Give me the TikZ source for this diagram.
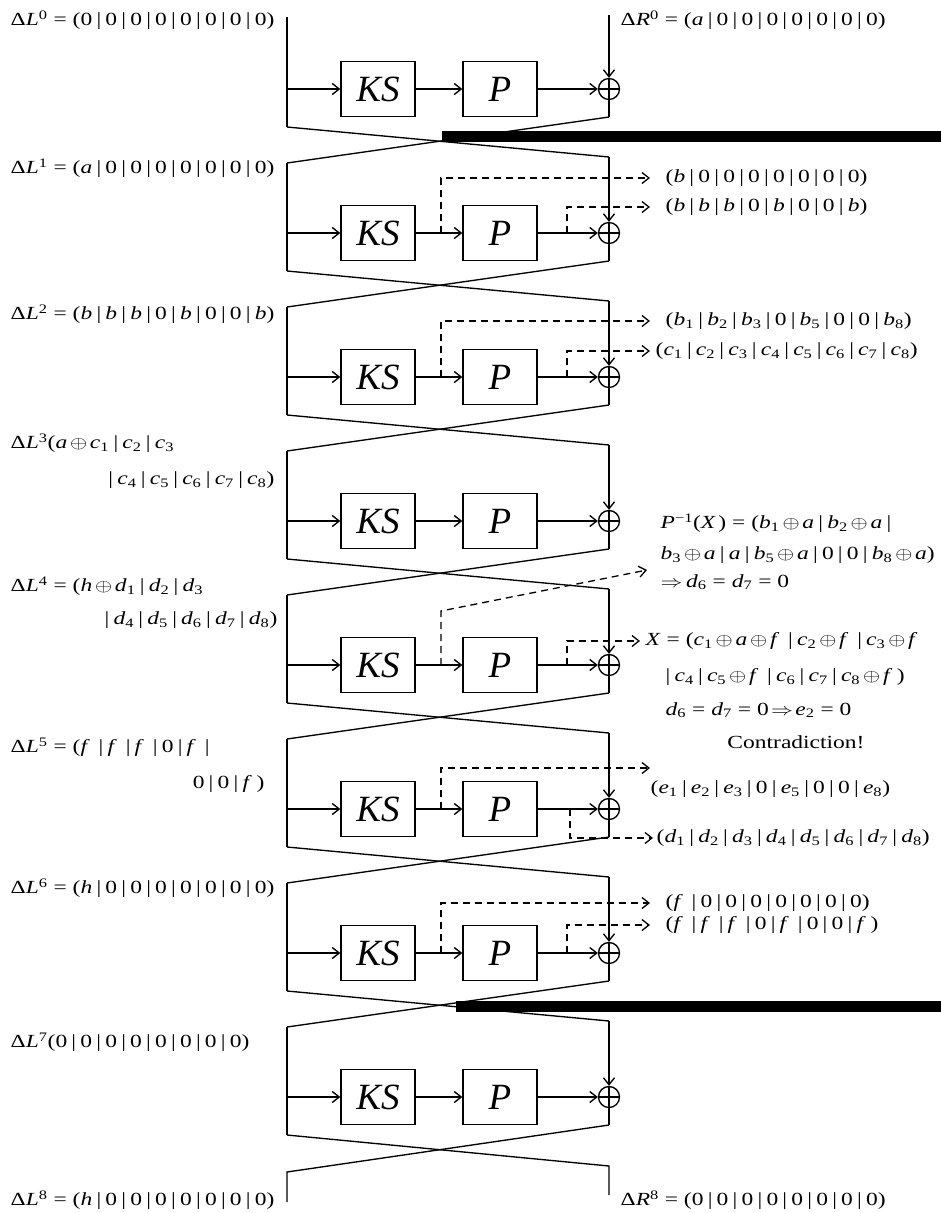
\documentclass[tikz,border=0pt]{standalone}
\usepackage{fontspec}
\setmainfont{Liberation Serif}
\usepackage{graphicx}
\usetikzlibrary{arrows.meta}
\newcommand{\bv}{\hspace{0.18em}|\hspace{0.18em}}
\newcommand{\tup}[8]{(#1\bv#2\bv#3\bv#4\bv#5\bv#6\bv#7\bv#8)}
\newcommand{\vi}[1]{\textit{#1}}
\newcommand{\sbs}[2]{\textit{#1}\textsubscript{#2}}
\newcommand{\ox}{\hspace{0.12em}$\oplus$\hspace{0.12em}}
\newcommand{\ff}{\textit{f}\hspace{0.2em}}
\newcommand{\lab}[1]{\scalebox{1.27}[1]{#1}}
\begin{document}
\begin{tikzpicture}[x=1pt,y=-1pt, line width=1.35pt,
  >={Straight Barb[length=7pt,width=11pt]},
  box/.style={draw, minimum width=74pt, minimum height=55pt, inner sep=0pt,
    font=\fontsize{37}{37}\selectfont\itshape},
  xor/.style={draw, circle, minimum size=21pt, inner sep=0pt},
  lbl/.style={inner sep=0pt, font=\fontsize{18.5}{20}\selectfont},
  dsh/.style={dash pattern=on 7pt off 5pt, line width=1.3pt}]
\clip (0,0) rectangle (941,1213);
\fill[white] (0,0) rectangle (941,1213);

% ---- rounds
\foreach \i in {0,...,7}{
  \pgfmathsetmacro{\c}{89+144*\i}
  \node[box] (ks\i) at (378,\c) {KS};
  \node[box] (p\i) at (500,\c) {P};
  \node[xor] (x\i) at (609,\c) {};
  \coordinate (la\i) at (287,\c);
  \coordinate (lb\i) at (287,\c+38);
  \coordinate (rb\i) at (609,\c+28);
  \coordinate (lt\i) at (287,\c-70);
  \coordinate (rt\i) at (609,\c-76);
}
\coordinate (lt0) at (287,17);
\coordinate (rt0) at (609,15);
\coordinate (rf) at (609,1166);
\coordinate (rend) at (609,1195);
\coordinate (lf) at (287,1172);
\coordinate (lend) at (287,1202);

\foreach \i in {0,...,7}{
  \draw (lt\i) -- (lb\i);
  \draw[->] (la\i) -- (ks\i);
  \draw[->] (ks\i) -- (p\i);
  \draw[->] (p\i) -- (x\i);
  \draw[->] (rt\i) -- (x\i);
  \draw (x\i) -- (rb\i);
  \draw (x\i.north) -- (x\i.south) (x\i.west) -- (x\i.east);
}
\foreach \i/\j in {0/1,1/2,2/3,3/4,4/5,5/6,6/7}{
  \draw (lb\i) -- (rt\j);
  \draw (rb\i) -- (lt\j);
}
\draw (lb7) -- (rf) -- (rend);
\draw (rb7) -- (lf) -- (lend);

% ---- redaction bars
\fill[black] (442,131) rectangle (941,142);
\fill[black] (456,1001) rectangle (941,1012);

% ---- left labels
\node[lbl,anchor=west] (L0) at (10,20) {\lab{Δ\vi{L}\textsuperscript{0} = \tup{0}{0}{0}{0}{0}{0}{0}{0}}};
\node[lbl,anchor=west] (L1) at (10,168) {\lab{Δ\vi{L}\textsuperscript{1} = \tup{\vi{a}}{0}{0}{0}{0}{0}{0}{0}}};
\node[lbl,anchor=west] (L2) at (10,314) {\lab{Δ\vi{L}\textsuperscript{2} = \tup{\vi{b}}{\vi{b}}{\vi{b}}{0}{\vi{b}}{0}{0}{\vi{b}}}};
\node[lbl,anchor=west] (L3a) at (10,443) {\lab{Δ\vi{L}\textsuperscript{3}(\vi{a}\ox\sbs{c}{1}\bv\sbs{c}{2}\bv\sbs{c}{3}}};
\node[lbl,anchor=east] (L3b) at (275,480) {\lab{|\hspace{0.18em}\sbs{c}{4}\bv\sbs{c}{5}\bv\sbs{c}{6}\bv\sbs{c}{7}\bv\sbs{c}{8})}};
\node[lbl,anchor=west] (L4a) at (10,586) {\lab{Δ\vi{L}\textsuperscript{4} = (\vi{h}\ox\sbs{d}{1}\bv\sbs{d}{2}\bv\sbs{d}{3}}};
\node[lbl,anchor=east] (L4b) at (278,620) {\lab{|\hspace{0.18em}\sbs{d}{4}\bv\sbs{d}{5}\bv\sbs{d}{6}\bv\sbs{d}{7}\bv\sbs{d}{8})}};
\node[lbl,anchor=west] (L5a) at (10,747) {\lab{Δ\vi{L}\textsuperscript{5} = (\ff\bv\ff\bv\ff\bv0\bv\ff\bv}};
\node[lbl,anchor=east] (L5b) at (265,784) {\lab{0\bv0\bv\ff)}};
\node[lbl,anchor=west] (L6) at (10,888) {\lab{Δ\vi{L}\textsuperscript{6} = \tup{\vi{h}}{0}{0}{0}{0}{0}{0}{0}}};
\node[lbl,anchor=west] (L7) at (10,1042) {\lab{Δ\vi{L}\textsuperscript{7}\tup{0}{0}{0}{0}{0}{0}{0}{0}}};
\node[lbl,anchor=west] (L8) at (10,1200) {\lab{Δ\vi{L}\textsuperscript{8} = \tup{\vi{h}}{0}{0}{0}{0}{0}{0}{0}}};

% ---- right labels
\node[lbl,anchor=west] (R0) at (620,20) {\lab{Δ\vi{R}\textsuperscript{0} = \tup{\vi{a}}{0}{0}{0}{0}{0}{0}{0}}};
\node[lbl,anchor=west] (R8) at (620,1200) {\lab{Δ\vi{R}\textsuperscript{8} = \tup{0}{0}{0}{0}{0}{0}{0}{0}}};

\node[lbl,anchor=west] (r1a) at (665,178) {\lab{\tup{\vi{b}}{0}{0}{0}{0}{0}{0}{0}}};
\node[lbl,anchor=west] (r1b) at (665,207) {\lab{\tup{\vi{b}}{\vi{b}}{\vi{b}}{0}{\vi{b}}{0}{0}{\vi{b}}}};
\node[lbl,anchor=west] (r2a) at (665,321) {\lab{\tup{\sbs{b}{1}}{\sbs{b}{2}}{\sbs{b}{3}}{0}{\sbs{b}{5}}{0}{0}{\sbs{b}{8}}}};
\node[lbl,anchor=west] (r2b) at (655,351) {\lab{\tup{\sbs{c}{1}}{\sbs{c}{2}}{\sbs{c}{3}}{\sbs{c}{4}}{\sbs{c}{5}}{\sbs{c}{6}}{\sbs{c}{7}}{\sbs{c}{8}}}};

\node[lbl,anchor=west] (pinv1) at (660,523) {\lab{\vi{P}\textsuperscript{−1}(\vi{X}\hspace{0.1em}) = (\sbs{b}{1}\ox\vi{a}\bv\sbs{b}{2}\ox\vi{a}\hspace{0.18em}|}};
\node[lbl,anchor=west] (pinv2) at (660,555) {\lab{\sbs{b}{3}\ox\vi{a}\bv\vi{a}\bv\sbs{b}{5}\ox\vi{a}\bv0\bv0\bv\sbs{b}{8}\ox\vi{a})}};
\node[lbl,anchor=west] (pinv3) at (660,582) {\lab{$\Rightarrow$\hspace{0.15em}\sbs{d}{6} = \sbs{d}{7} = 0}};
\node[lbl,anchor=west] (xl1) at (645,641) {\lab{\vi{X} = (\sbs{c}{1}\ox\vi{a}\ox\ff\bv\sbs{c}{2}\ox\ff\bv\sbs{c}{3}\ox\ff}};
\node[lbl,anchor=west] (xl2) at (665,677) {\lab{|\hspace{0.18em}\sbs{c}{4}\bv\sbs{c}{5}\ox\ff\bv\sbs{c}{6}\bv\sbs{c}{7}\bv\sbs{c}{8}\ox\ff)}};
\node[lbl,anchor=west] (xl3) at (665,710) {\lab{\sbs{d}{6} = \sbs{d}{7} = 0\hspace{0.1em}$\Rightarrow$\hspace{0.1em}\sbs{e}{2} = 0}};
\node[lbl] (contra) at (796,742) {\lab{Contradiction!}};

\node[lbl,anchor=west] (r5a) at (650,789) {\lab{\tup{\sbs{e}{1}}{\sbs{e}{2}}{\sbs{e}{3}}{0}{\sbs{e}{5}}{0}{0}{\sbs{e}{8}}}};
\node[lbl,anchor=west] (r5b) at (656,838) {\lab{\tup{\sbs{d}{1}}{\sbs{d}{2}}{\sbs{d}{3}}{\sbs{d}{4}}{\sbs{d}{5}}{\sbs{d}{6}}{\sbs{d}{7}}{\sbs{d}{8}}}};
\node[lbl,anchor=west] (r6a) at (665,903) {\lab{(\ff\bv0\bv0\bv0\bv0\bv0\bv0\bv0)}};
\node[lbl,anchor=west] (r6b) at (665,925) {\lab{(\ff\bv\ff\bv\ff\bv0\bv\ff\bv0\bv0\bv\ff)}};

% ---- dashed taps
\coordinate (s1a) at (441,233); \coordinate (s1b) at (567,233);
\draw[dsh,->] (s1a) |- ([xshift=-15pt]r1a.west);
\draw[dsh,->] (s1b) |- ([xshift=-15pt]r1b.west);

\coordinate (s2a) at (441,377); \coordinate (s2b) at (567,377);
\draw[dsh,->] (s2a) |- ([xshift=-15pt]r2a.west);
\draw[dsh,->] (s2b) |- ([xshift=-5pt]r2b.west);

\coordinate (s4a) at (441,665); \coordinate (s4k) at (441,611);
\coordinate (s4t) at (647,570); \coordinate (s4b) at (567,665);
\draw[dsh,->] (s4a) -- (s4k) -- (s4t);
\draw[dsh,->] (s4b) |- ([xshift=-5pt]xl1.west);

\coordinate (s5a) at (441,809); \coordinate (s5t) at (650,768);
\coordinate (s5b) at (570,809);
\draw[dsh,->] (s5a) |- (s5t);
\draw[dsh,->] (s5b) |- ([xshift=-3pt]r5b.west);

\coordinate (s6a) at (441,953); \coordinate (s6b) at (567,953);
\draw[dsh,->] (s6a) |- ([xshift=-15pt]r6a.west);
\draw[dsh,->] (s6b) |- ([xshift=-15pt]r6b.west);
\end{tikzpicture}
\end{document}
